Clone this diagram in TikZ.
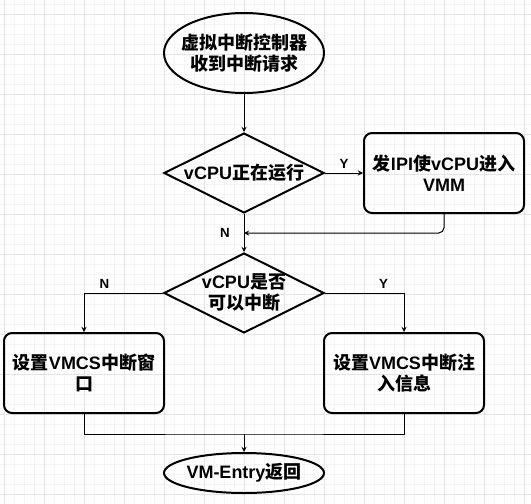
\documentclass[tikz,border=0pt]{standalone}
\usepackage{fontspec}
\setmainfont{Liberation Sans}
\newfontfamily\cjk{Noto Sans CJK SC}
\newcommand{\hz}[1]{{\cjk #1}}
\newcommand{\boxfont}{\fontsize{13.5}{15.75}\selectfont\bfseries}
\usetikzlibrary{shapes.geometric}
\definecolor{gridmajor}{HTML}{E4E4E4}
\definecolor{gridminor}{HTML}{F4F4F4}
\tikzset{
    term/.style={draw, line width=1.5pt, ellipse, inner sep=-6pt, minimum width=120pt, minimum height=60pt, align=center, font=\boxfont},
    decide/.style={draw, line width=1.5pt, diamond, aspect=2, inner sep=-3pt, minimum width=120pt, minimum height=60pt, align=center, font=\boxfont},
    proc/.style={draw, line width=1.5pt, rectangle, rounded corners=6pt, minimum width=120pt, minimum height=60pt, align=center, font=\boxfont},
    yn/.style={font=\fontsize{10}{11}\selectfont\bfseries}
}
\begin{document}
\begin{tikzpicture}[>=stealth, x=0.75pt, y=-0.75pt, line width=0.75pt]
                \useasboundingbox (0,0) rectangle (531,503);
                \foreach \x in {4,14,...,524}  { \draw[gridminor,line width=0.5pt](\x,0)--(\x,503); }
                \foreach \y in {4,14,...,494}  { \draw[gridminor,line width=0.5pt](0,\y)--(531,\y); }
                \foreach \x in {4,44,...,524}  { \draw[gridmajor,line width=0.6pt](\x,0)--(\x,503); }
                \foreach \y in {14,54,...,494}  { \draw[gridmajor,line width=0.6pt](0,\y)--(531,\y); }
                \node (start) at (244,53) [term]{\hz{虚拟中断控制器}\\\hz{收到中断请求}};
                \node (run) at (244,173) [decide]{vCPU\hz{正在运行}};
                \node (ipi) at (444,173) [proc]{\hz{发}IPI\hz{使}vCPU\hz{进入}\\VMM};
                \node (canint) at (244,293) [decide]{vCPU\hz{是否}\\\hz{可以中断}};
                \node (window) at (84,373) [proc]{\hz{设置}VMCS\hz{中断窗}\\\hz{口}};
                \node (inject) at (404,373) [proc]{\hz{设置}VMCS\hz{中断注}\\\hz{入信息}};
                \node (ret) at (244,473) [term, minimum height=30pt]{VM-Entry\hz{返回}};
                \coordinate (join) at (244,233);
                \coordinate (merge) at (244,434);
                \draw[->] (start) -- (run);
                \draw[->] (run) -- node[yn,above]{Y} (ipi);
                \draw[->,rounded corners=4pt] (ipi.south) |- (join);
                \draw[->] (run) -- node[yn,left,xshift=-7pt]{N} (canint);
                \draw[->] (canint.west) -| node[yn,pos=0.37,above]{N} (window);
                \draw[->] (canint.east) -| node[yn,pos=0.37,above]{Y} (inject);
                \draw (window.south) |- (merge) -| (inject.south);
                \draw[->] (merge) -- (ret);
            \end{tikzpicture}
\end{document}
